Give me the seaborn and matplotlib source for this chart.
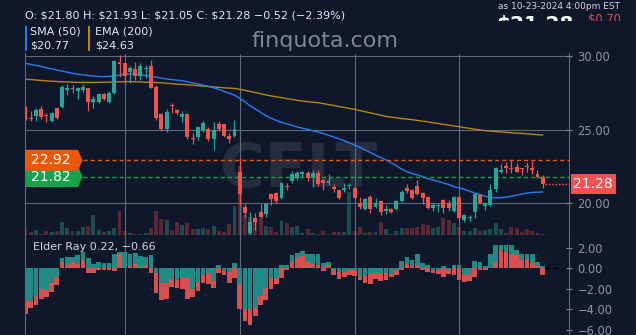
import numpy as np
import pandas as pd
import matplotlib
matplotlib.use("Agg")
import matplotlib.pyplot as plt
import seaborn as sns
from matplotlib.patches import Polygon, Rectangle
from matplotlib.transforms import Bbox, TransformedBbox, blended_transform_factory

# ---------------- data ----------------
opens = [26.45, 25.78, 25.95, 26.38, 26.00, 25.60, 26.45, 26.52, 27.70, 27.85,
         27.60, 27.70, 27.80, 26.85, 26.90, 27.45, 26.90, 27.47, 29.60, 29.55,
         28.90, 29.10, 28.65, 29.10, 29.35, 27.90, 26.04, 25.02, 26.70, 26.33,
         25.84, 26.04, 24.46, 24.48, 24.98, 25.05, 24.35, 25.36, 25.36, 24.57,
         24.57, 22.15, 19.77, 17.96, 18.98, 19.43, 19.27, 20.63, 20.68, 20.34,
         21.20, 21.54, 21.70, 21.99, 22.08, 21.70, 22.04, 21.58, 21.40, 21.10,
         20.90, 20.90, 21.15, 21.06, 20.00, 19.61, 20.45, 19.77, 20.16, 19.48,
         19.61, 19.61, 20.16, 21.02, 20.90, 21.18, 20.68, 20.45, 19.70, 19.80,
         20.23, 20.00, 19.48, 20.41, 18.87, 18.98, 19.39, 20.57, 19.84, 19.89,
         20.97, 22.15, 22.54, 22.40, 22.49, 22.40, 22.54, 22.42, 22.00, 21.80]
highs = [26.60, 26.30, 26.50, 26.60, 26.10, 26.20, 26.55, 28.00, 28.10, 28.00,
         27.90, 28.10, 27.85, 27.30, 27.50, 27.50, 27.60, 29.70, 30.10, 29.60,
         29.30, 29.60, 29.50, 29.40, 29.70, 28.00, 26.10, 26.40, 26.83, 26.40,
         26.27, 26.10, 24.75, 25.20, 25.60, 25.20, 25.50, 25.60, 25.38, 24.75,
         25.66, 23.10, 19.95, 19.43, 19.32, 19.95, 20.05, 20.72, 20.80, 21.47,
         21.36, 22.22, 22.20, 22.20, 22.20, 22.25, 22.26, 21.65, 21.97, 21.29,
         21.00, 21.40, 21.40, 21.18, 20.43, 20.34, 20.57, 20.34, 20.23, 19.88,
         19.65, 20.20, 20.90, 21.29, 21.00, 21.56, 20.75, 20.50, 20.00, 20.00,
         20.27, 20.23, 20.52, 20.45, 19.25, 19.20, 20.68, 20.61, 20.11, 21.29,
         22.49, 22.65, 22.83, 22.94, 22.72, 22.42, 22.80, 22.88, 22.25, 21.93]
lows = [25.65, 25.60, 25.60, 25.70, 25.55, 25.50, 25.75, 26.50, 27.35, 27.50,
        27.10, 27.55, 26.30, 26.45, 26.80, 27.00, 26.80, 27.40, 28.60, 28.10,
        28.20, 28.40, 28.40, 28.50, 27.80, 25.65, 24.90, 24.85, 26.10, 26.00,
        25.55, 24.40, 24.00, 24.30, 24.87, 24.25, 23.62, 24.93, 24.48, 24.07,
        24.48, 19.90, 19.10, 17.85, 18.20, 18.98, 19.10, 19.88, 20.05, 20.30,
        20.90, 21.40, 21.60, 21.80, 21.50, 21.13, 21.20, 20.90, 21.24, 20.78,
        20.29, 20.77, 20.95, 20.29, 19.60, 19.54, 19.32, 19.65, 19.20, 19.25,
        19.32, 19.54, 20.07, 20.68, 20.29, 20.57, 19.95, 19.60, 19.45, 19.43,
        19.32, 19.45, 19.43, 18.87, 18.70, 18.80, 19.03, 19.93, 19.54, 19.84,
        20.75, 22.04, 22.04, 22.04, 22.10, 21.90, 22.10, 22.00, 21.75, 21.05]
closes = [25.81, 25.74, 26.33, 25.88, 25.90, 26.10, 25.80, 27.92, 27.80, 27.75,
          27.80, 27.90, 26.90, 27.10, 27.40, 27.10, 27.50, 29.66, 29.45, 28.65,
          29.20, 28.65, 29.30, 29.20, 27.85, 25.80, 25.02, 26.22, 26.60, 26.10,
          26.04, 24.52, 24.35, 25.16, 25.48, 24.35, 24.98, 25.02, 24.57, 24.37,
          25.05, 20.63, 19.32, 18.76, 18.76, 19.05, 19.95, 20.27, 20.18, 21.36,
          21.08, 21.99, 22.04, 22.15, 21.70, 22.08, 21.29, 21.40, 21.52, 21.00,
          20.38, 21.04, 21.22, 20.38, 19.77, 20.29, 19.61, 20.05, 19.39, 19.61,
          19.43, 20.16, 20.79, 20.84, 20.38, 20.61, 20.38, 19.70, 19.88, 19.88,
          19.70, 19.70, 20.41, 18.98, 19.20, 19.07, 20.61, 20.00, 20.00, 20.90,
          22.38, 22.26, 22.38, 22.35, 22.15, 22.35, 22.45, 22.26, 21.80, 21.28]
volumes_m = [1.50, 0.75, 1.25, 0.33, 1.08, 0.75, 1.08, 3.25, 1.75, 1.08,
             1.08, 2.08, 2.25, 5.00, 1.25, 0.83, 1.00, 1.75, 6.00, 1.08,
             0.50, 0.25, 0.25, 0.58, 1.75, 6.08, 4.00, 3.75, 1.25, 3.18,
             2.50, 2.93, 1.50, 1.50, 1.75, 1.43, 2.25, 1.00, 0.83, 2.75,
             7.25, 17.25, 5.00, 4.50, 3.50, 4.25, 2.25, 2.00, 0.83, 3.50,
             3.00, 1.93, 2.25, 0.58, 1.50, 0.58, 0.25, 1.08, 0.25, 0.75,
             0.75, 0.75, 10.75, 1.08, 2.00, 0.58, 0.75, 0.75, 3.25, 1.50,
             0.25, 1.08, 1.75, 1.75, 1.75, 2.00, 2.75, 2.50, 1.75, 2.08,
             4.25, 3.75, 3.08, 2.08, 1.08, 1.08, 1.75, 1.00, 1.25, 1.50,
             3.08, 1.50, 0.58, 2.00, 1.75, 0.83, 1.50, 1.08, 0.38, 0.13]
sma50 = [29.50, 29.43, 29.36, 29.29, 29.20, 29.13, 29.05, 28.97, 28.90, 28.83,
         28.77, 28.72, 28.68, 28.64, 28.61, 28.60, 28.62, 28.65, 28.70, 28.75,
         28.78, 28.76, 28.72, 28.68, 28.64, 28.57, 28.50, 28.44, 28.40, 28.36,
         28.32, 28.25, 28.17, 28.10, 28.02, 27.94, 27.84, 27.73, 27.60, 27.47,
         27.34, 27.12, 26.90, 26.62, 26.40, 26.18, 25.95, 25.78, 25.63, 25.50,
         25.40, 25.30, 25.18, 25.10, 25.02, 24.93, 24.84, 24.74, 24.62, 24.50,
         24.38, 24.24, 24.10, 23.96, 23.80, 23.63, 23.45, 23.28, 23.10, 22.95,
         22.75, 22.55, 22.32, 22.15, 22.03, 21.93, 21.82, 21.68, 21.58, 21.48,
         21.38, 21.28, 21.12, 21.05, 20.95, 20.82, 20.70, 20.60, 20.48, 20.40,
         20.38, 20.38, 20.42, 20.48, 20.56, 20.63, 20.70, 20.74, 20.76, 20.77]
ema200 = [28.42, 28.40, 28.37, 28.34, 28.31, 28.29, 28.27, 28.25, 28.24, 28.22,
          28.21, 28.21, 28.21, 28.21, 28.21, 28.22, 28.23, 28.24, 28.25, 28.26,
          28.26, 28.25, 28.24, 28.22, 28.21, 28.20, 28.18, 28.15, 28.12, 28.09,
          28.07, 28.05, 28.02, 27.99, 27.96, 27.93, 27.90, 27.87, 27.84, 27.82,
          27.80, 27.74, 27.67, 27.60, 27.52, 27.44, 27.36, 27.29, 27.23, 27.17,
          27.11, 27.05, 26.99, 26.94, 26.90, 26.86, 26.83, 26.77, 26.70, 26.64,
          26.57, 26.51, 26.44, 26.38, 26.30, 26.22, 26.14, 26.06, 25.98, 25.90,
          25.85, 25.81, 25.76, 25.72, 25.68, 25.63, 25.58, 25.53, 25.47, 25.42,
          25.36, 25.31, 25.25, 25.20, 25.14, 25.09, 25.03, 24.98, 24.93, 24.90,
          24.87, 24.85, 24.82, 24.79, 24.76, 24.75, 24.72, 24.69, 24.66, 24.63]
bull_power = [-3.13, -3.19, -2.67, -2.05, -2.14, -1.43, -0.80, 0.96, 1.12, 1.12,
              1.27, 1.58, 0.96, 0.43, 0.65, 0.50, 0.53, 1.43, 1.58, 1.58,
              1.36, 1.46, 1.20, 1.15, 1.30, -0.50, -1.43, -1.43, -1.00, -1.12,
              -0.96, -0.90, -2.00, -1.36, -0.65, -0.50, -1.27, 0.28, -0.25, -0.34,
              0.53, -1.58, -4.00, -4.00, -3.90, -2.67, -1.90, -0.96, -0.96, 0.28,
              0.28, 1.30, 1.46, 1.67, 1.43, 1.36, 1.36, 0.55, 0.65, -0.10,
              -0.34, -0.34, -0.19, -0.19, -0.80, -0.74, -0.43, -0.50, -0.43, -0.50,
              -0.59, -0.19, 0.74, 1.12, 0.80, 1.36, 0.53, 0.34, -0.12, -0.12,
              0.19, -0.12, 0.34, 0.28, -0.65, -0.59, 0.74, 0.65, 0.19, 1.36,
              2.30, 2.30, 2.30, 2.30, 1.83, 1.43, 1.43, 1.43, 0.59, 0.22]
bear_power = [-4.47, -3.90, -3.60, -2.98, -2.76, -2.29, -1.60, 0.59, 0.28, 0.65,
              0.43, 0.81, -0.50, -0.43, -0.20, -0.19, -0.12, -0.25, 1.36, 0.03,
              0.19, 0.43, 0.12, 0.28, -0.50, -2.45, -3.13, -3.04, -1.80, -1.90,
              -2.00, -3.04, -2.76, -2.26, -1.43, -1.52, -1.90, -0.43, -0.65, -1.43,
              -0.96, -3.97, -5.15, -5.55, -4.62, -3.60, -3.13, -2.05, -1.52, -0.96,
              -0.19, 0.59, 0.99, 1.20, 0.59, 0.43, 0.34, -0.25, 0.30, -0.65,
              -1.05, -0.80, -0.65, -0.71, -1.12, -1.43, -1.58, -1.05, -1.27, -1.12,
              -0.80, -0.65, -0.19, 0.43, 0.19, 0.37, -0.19, -0.34, -0.43, -0.56,
              -0.80, -0.59, -0.65, -1.12, -1.33, -1.20, -0.80, -0.12, -0.19, 0.00,
              0.59, 1.83, 1.61, 1.36, 1.30, 0.81, 0.90, 0.50, 0.19, -0.66]
grid_days = [19, 41, 63, 83]
level_orange = 22.92
level_green = 21.82
last_close = 21.28
price_ticks = [20, 25, 30]
elder_ticks = [2, 0, -2, -4, -6]
ticker = "CFLT"
header = "O: \\$21.80 H: \\$21.93 L: \\$21.05 C: \\$21.28 \u22120.52 (\u22122.39%)"

# ---------------- style ----------------
BG = "#0f172a"
GRID = "#5f6a7d"
TICK = "#8b93a3"
UP, DN = "#26a69a", "#ef5350"
VUP, VDN = "#1c4b50", "#5a2834"
EUP, EDN = "#218a84", "#d94e4e"
SMA_C, EMA_C = "#2b7cf0", "#b8860b"
ORANGE, GREEN = "#ea580c", "#16a34a"

sns.set_style("dark", rc={"axes.facecolor": BG, "figure.facecolor": BG})
plt.rcParams["font.family"] = ["DejaVu Sans"]

W, H = 636, 335
fig = plt.figure(figsize=(W / 100, H / 100), dpi=100)
fig.patch.set_facecolor(BG)

def fx(px):
    return px / W

def fy(py):
    return 1 - py / H

L_PX, R_PX = 25, 569
MAIN_TOP, MAIN_BOT = 53.5, 235
rect_main = [fx(L_PX), fy(MAIN_BOT), (R_PX - L_PX) / W, (MAIN_BOT - MAIN_TOP) / H]
rect_er = [fx(L_PX), 0, (R_PX - L_PX) / W, (H - MAIN_BOT) / H]

n = len(closes)
idx = np.arange(n)
o, h, l, c = map(np.array, (opens, highs, lows, closes))
up = c >= o
s = (542.7 - 25.5) / (n - 1)
xlim = (-0.5 / s, (R_PX - L_PX - 0.5) / s)

# volume axes (behind)
axv = fig.add_axes(rect_main)
axv.set_facecolor(BG)
axv.bar(idx, volumes_m, width=0.75, color=np.where(up, VUP, VDN), linewidth=0, zorder=2)
axv.set_xlim(*xlim)
axv.set_ylim(0, (MAIN_BOT - MAIN_TOP) * 0.25)
axv.axis("off")
axv.text((298.5 - L_PX) / (R_PX - L_PX), (MAIN_BOT - 171) / (MAIN_BOT - MAIN_TOP), ticker,
         transform=axv.transAxes, ha="center", va="center", fontsize=44,
         fontweight="bold", color="#262d40", zorder=0)

# main price axes
ax = fig.add_axes(rect_main, sharex=axv)
ax.patch.set_alpha(0)
ax.set_xlim(*xlim)
ax.set_ylim(17.85, 30.17)
ax.set_xticks(grid_days)
ax.set_xticklabels([])
ax.set_yticks(price_ticks)
ax.set_yticklabels([f"{v:.2f}" for v in price_ticks])
ax.yaxis.tick_right()
ax.tick_params(axis="y", colors=TICK, labelsize=8.3, direction="inout", length=4, pad=4, width=0.8)
ax.tick_params(axis="x", length=0)
ax.grid(True, color=GRID, lw=0.8)
ax.set_axisbelow(True)
for side in ["left", "right", "bottom"]:
    ax.spines[side].set_visible(True)
    ax.spines[side].set_color(GRID)
    ax.spines[side].set_linewidth(0.8)
ax.spines["top"].set_visible(False)

df = pd.DataFrame({"day": idx, "sma": sma50, "ema": ema200})
sns.lineplot(data=df, x="day", y="ema", ax=ax, color=EMA_C, linewidth=1.0, zorder=2.5)
sns.lineplot(data=df, x="day", y="sma", ax=ax, color=SMA_C, linewidth=1.0, zorder=2.5)
ax.set_xlabel("")
ax.set_ylabel("")

cols = np.where(up, UP, DN)
ax.vlines(idx, l, h, colors=cols, lw=0.9, zorder=3)
ax.bar(idx, np.maximum(np.abs(c - o), 0.05), bottom=np.minimum(o, c), width=0.75,
       color=cols, linewidth=0, zorder=4)

def axfx(px):
    return (px - L_PX) / (R_PX - L_PX)

bt = blended_transform_factory(ax.transAxes, ax.transData)
hh = 10.5 / 14.73
for lvl, colr in [(level_green, GREEN), (level_orange, ORANGE)]:
    ax.axhline(lvl, xmin=axfx(83), xmax=1, color=colr, lw=1.0, ls=(0, (3, 2.2)), zorder=2.8)
    poly = Polygon([(0, lvl + hh), (axfx(78), lvl + hh), (axfx(82.5), lvl),
                    (axfx(78), lvl - hh), (0, lvl - hh)], closed=True,
                   transform=bt, facecolor=colr, edgecolor="none", zorder=6, clip_on=False)
    ax.add_patch(poly)
    ax.text(axfx(51), lvl, f"{lvl:.2f}", transform=bt, ha="center", va="center",
            color="white", fontsize=10, zorder=7)

ax.plot([n - 0.6, xlim[1]], [last_close, last_close], color=DN, lw=1.0, ls=(0, (1.2, 1.2)), zorder=3)
hr = 10 / 14.73
ax.add_patch(Rectangle((axfx(570.5), last_close - hr), axfx(615.7) - axfx(570.5), 2 * hr,
                       transform=bt, facecolor=DN, edgecolor="none", clip_on=False, zorder=6))
ax.text(axfx(593), last_close, f"{last_close:.2f}", transform=bt, ha="center", va="center",
        color="white", fontsize=10, zorder=7, clip_on=False)

# elder ray axes
ER_ZERO, ER_PX = 268.3, 10.25
axe = fig.add_axes(rect_er, sharex=axv)
axe.set_facecolor(BG)
axe.set_xlim(*xlim)
axe.set_ylim(-(H - ER_ZERO) / ER_PX, (ER_ZERO - MAIN_BOT) / ER_PX)
bull = np.array(bull_power)
bear = np.array(bear_power)
teal_outer = np.abs(bull) >= np.abs(bear)
w = 0.9
axe.bar(idx[teal_outer], bull[teal_outer], width=w, color=EUP, linewidth=0, zorder=2)
axe.bar(idx[teal_outer], bear[teal_outer], width=w, color=EDN, linewidth=0, zorder=3)
axe.bar(idx[~teal_outer], bear[~teal_outer], width=w, color=EDN, linewidth=0, zorder=2)
axe.bar(idx[~teal_outer], bull[~teal_outer], width=w, color=EUP, linewidth=0, zorder=3)
axe.plot([n - 0.5, xlim[1]], [0, 0], color="black", lw=1.0, ls=(0, (3, 3)), zorder=3)
axe.set_xticks(grid_days)
axe.set_xticklabels([])
axe.set_yticks(elder_ticks)
axe.set_yticklabels([f"{v:.2f}".replace("-", "\u2212") for v in elder_ticks])
axe.yaxis.tick_right()
axe.tick_params(axis="y", colors=TICK, labelsize=8.3, direction="inout", length=4, pad=4, width=0.8)
axe.tick_params(axis="x", length=0)
axe.grid(True, axis="x", color=GRID, lw=0.8)
axe.grid(False, axis="y")
axe.set_axisbelow(True)
for side in ["left", "right"]:
    axe.spines[side].set_visible(True)
    axe.spines[side].set_color(GRID)
    axe.spines[side].set_linewidth(0.8)
axe.spines["top"].set_visible(False)
axe.spines["bottom"].set_visible(False)
fig.text(fx(33), fy(247), f"Elder Ray {bull[-1]:.2f}, {bear[-1]:.2f}".replace("-", "\u2212"),
         color="#d1d5db", fontsize=8, ha="left", va="center")

# ---------------- header ----------------
fig.text(fx(25), fy(15), header, color="#e5e7eb", fontsize=8, ha="left", va="center")
fig.patches.append(Rectangle((fx(24.5), fy(51)), 2.5 / W, 25 / H, transform=fig.transFigure,
                             facecolor=SMA_C, edgecolor="none"))
fig.patches.append(Rectangle((fx(87.5), fy(51)), 2.5 / W, 25 / H, transform=fig.transFigure,
                             facecolor=EMA_C, edgecolor="none"))
fig.text(fx(30), fy(31.5), "SMA (50)", color="#e5e7eb", fontsize=8, ha="left", va="center")
fig.text(fx(30), fy(45.5), f"\\${sma50[-1]:.2f}", color="#e5e7eb", fontsize=8, ha="left", va="center")
fig.text(fx(95), fy(31.5), "EMA (200)", color="#e5e7eb", fontsize=8, ha="left", va="center")
fig.text(fx(95), fy(45.5), f"\\${ema200[-1]:.2f}", color="#e5e7eb", fontsize=8, ha="left", va="center")
fig.text(fx(325.5), fy(41), "finquota.com", color="#80858f", fontsize=16, ha="center", va="center")
fig.text(fx(559), fy(6.5), "as 10-23-2024 4:00pm EST", color="#d1d5db", fontsize=6.5,
         ha="center", va="center")

clip = TransformedBbox(Bbox.from_extents(0, fy(20.5), 1, 1), fig.transFigure)
t1 = fig.text(fx(496), fy(29.6), f"\\${last_close:.2f}", color="white", fontsize=14.4,
              fontweight="bold", ha="left", va="baseline")
t1.set_clip_box(clip)
t1.set_clip_on(True)
t2 = fig.text(fx(588), fy(23.4), "\\$0.70", color="#ef4444", fontsize=8.3,
              ha="left", va="baseline")
t2.set_clip_box(clip)
t2.set_clip_on(True)

fig.savefig("out.png", dpi=100, facecolor=BG)
